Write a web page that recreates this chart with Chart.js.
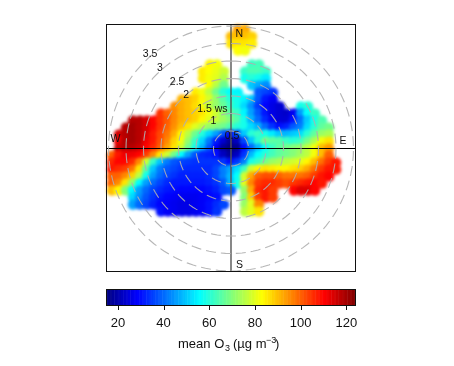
<!DOCTYPE html>
<html><head><meta charset="utf-8">
<script src="https://cdn.jsdelivr.net/npm/chart.js@4"></script>
<style>
html,body{margin:0;padding:0;background:#fff;width:454px;height:366px;overflow:hidden}
canvas{position:absolute;left:0;top:0}
#heat{filter:blur(1.7px)}
</style></head><body>
<canvas id="heat" width="454" height="366"></canvas>
<canvas id="over" width="454" height="366"></canvas>
<canvas id="bar" width="454" height="366"></canvas>
<script>
const cellStep = 0.2;
// each row: [row index, [[first column, [mean O3 values]], ...]]
const o3Rows = [
[-17,[[1,[93,92]]]],
[-16,[[0,[90,90,90,88]]]],
[-15,[[0,[86,86,86,85]]]],
[-14,[[1,[83,82]]]],
[-12,[[-3,[84,82]],[3,[62,63]]]],
[-11,[[-4,[85,83,81,78]],[2,[62,64,64,62]]]],
[-10,[[-4,[85,82,80,75]],[2,[58,60,58,54]]]],
[-9,[[-3,[83,76,68]],[3,[50,47,44]]]],
[-8,[[-5,[85,82,76,68,60,56,55]],[4,[38,36,34]]]],
[-7,[[-7,[91,90,88,84,79,72,65,60,58,55,50,38,31,28]]]],
[-6,[[-8,[95,92,90,87,82,76,72,67,62,58,52,44,35,29,26,24]],[10,[58,60]]]],
[-5,[[-10,[105,100,96,92,90,88,86,82,78,72,66,62,55,46,38,31,26,24,23,27,45,56,62]]]],
[-4,[[-14,[118,118,115,110,105,101,96,92,90,88,84,80,77,73,70,65,58,48,40,33,28,24,24,30,40,50,58,64]]]],
[-3,[[-15,[118,120,118,115,110,105,100,95,90,86,80,76,72,70,68,64,60,58,52,48,40,34,30,32,38,42,52,60,66,68]]]],
[-2,[[-16,[115,118,120,118,114,108,103,98,92,84,76,68,60,52,46,38,30,38,50,60,62,58,54,50,48,50,52,60,66,72,74]]]],
[-1,[[-16,[112,118,120,118,112,108,102,96,88,82,72,62,52,42,32,24,18,22,36,50,60,68,66,65,62,60,62,68,74,82,86]]]],
[0,[[-16,[116,118,118,116,110,106,100,93,86,78,68,58,48,38,28,18,15,17,30,40,48,56,62,66,68,70,72,76,82,90,94]]]],
[1,[[-17,[100,108,112,112,110,104,96,86,78,68,56,46,38,33,32,30,22,18,22,34,48,56,60,63,66,68,70,73,76,82,90,100]]]],
[2,[[-17,[106,110,110,106,96,78,62,50,42,38,36,35,34,34,34,34,34,30,34,42,58,62,68,72,74,76,78,80,84,90,98,104,108]]]],
[3,[[-17,[108,106,104,98,86,66,50,42,38,36,34,33,33,33,33,36,42,46,52,62,78,84,86,85,84,84,86,88,92,98,104,108,108]]]],
[4,[[-17,[100,100,96,88,76,58,46,40,36,34,32,32,32,32,33,36,42,48,56,78,92,100,102,102,100,98,98,98,100,104,108,110]]]],
[5,[[-17,[100,96,86,72,56,46,40,36,33,31,31,31,31,31,32,34,38,48,58,80,96,104,106,106,104,102,104,106,108,110,108]]]],
[6,[[-17,[90,84,70,56,46,40,36,33,31,30,29,29,29,29,30,32,36,38]],[2,[72,92,106,108,104]],[9,[110,114,114,110]]]],
[7,[[-14,[52,44,38,34,31,29,28,27,27,27,28,29,30]],[2,[70,88,104,108,104]]]],
[8,[[-14,[46,40,36,32,29,28,27,26,26,27,28,30,33,36]],[2,[72,80,96]]]],
[9,[[-10,[30,28,27,26,26,27,28,30,34]],[2,[76,80,86]]]]
];
const ringRadii = [0.5,1,1.5,2,2.5,3,3.5];
const colourStops = ["#00007F","#0000FF","#007FFF","#00FFFF","#7FFF7F","#FFFF00","#FF7F00","#FF0000","#7F0000"];
const scaleMin = 15, scaleMax = 124;
const barTicks = [20,40,60,80,100,120];
const compass = [["N",0.24,3.26],["E",3.2,0.2],["S",0.24,-3.34],["W",-3.3,0.26]];
const wsLabels = [["3.5",-2.31,2.7],["3",-2.03,2.29],["2.5",-1.54,1.9],["2",-1.28,1.52],["1.5 ws",-0.53,1.12],["1",-0.5,0.77],["0.5",0.03,0.34]];

function hex(c){return [1,3,5].map(k=>parseInt(c.substr(k,2),16));}
function colourOf(v){
  const t=Math.max(0,Math.min(0.9999,(v-scaleMin)/(scaleMax-scaleMin)))*(colourStops.length-1);
  const k=Math.floor(t),f=t-k,a=hex(colourStops[k]),b=hex(colourStops[k+1]);
  return `rgb(${a.map((x,n)=>Math.round(x+(b[n]-x)*f)).join(',')})`;
}
const font = '"Liberation Sans", Arial, sans-serif';
const xR = 125/35;
const plotLayout = {padding:{left:106,right:98,top:24,bottom:94}};
const hidden = {display:false};
const plotScales = {x:{type:'linear',min:-xR,max:xR,display:false},y:{type:'linear',min:-123.5/35,max:124.5/35,display:false}};
const base = {responsive:false,animation:false,events:[],layout:plotLayout,plugins:{legend:hidden,tooltip:{enabled:false}}};

const cells=[];
o3Rows.forEach(([j,segs])=>segs.forEach(([s,vals])=>vals.forEach((v,n)=>cells.push({x:(s+n)*cellStep,y:-j*cellStep,v}))));
new Chart(document.getElementById('heat'),{type:'scatter',
  data:{datasets:[{data:cells,pointStyle:'circle',pointRadius:5.3,borderWidth:0,
    backgroundColor:c=>colourOf(c.raw.v)}]},
  options:{...base,scales:plotScales}});

const ringSets = ringRadii.map(r=>{
  const pts=[];for(let a=0;a<=360;a+=3)pts.push({x:r*Math.sin(a*Math.PI/180),y:r*Math.cos(a*Math.PI/180)});
  return {data:pts,showLine:true,pointRadius:0,borderColor:'rgba(175,175,175,0.9)',borderWidth:1.1,borderDash:[10,5]};
});
const axisSets=[
 {data:[{x:-xR,y:0},{x:xR,y:0}],showLine:true,pointRadius:0,borderColor:'#000',borderWidth:1},
 {data:[{x:0,y:-124/35},{x:0,y:124/35}],showLine:true,pointRadius:0,borderColor:'#555',borderWidth:1.4}
];
const overlay={id:'overlay',afterDatasetsDraw(ch){
  const {ctx,chartArea:a,scales:{x,y}}=ch;
  ctx.save();ctx.strokeStyle='#111';ctx.lineWidth=1;
  ctx.strokeRect(a.left+.5,a.top+.5,a.right-a.left-1,a.bottom-a.top-1);
  ctx.fillStyle='#111';ctx.font='10.5px '+font;ctx.textAlign='center';ctx.textBaseline='middle';
  compass.concat(wsLabels).forEach(([t,px,py])=>ctx.fillText(t,x.getPixelForValue(px),y.getPixelForValue(py)));
  ctx.restore();
}};
new Chart(document.getElementById('over'),{type:'scatter',
  data:{datasets:ringSets.concat(axisSets)},
  options:{...base,scales:plotScales},plugins:[overlay]});

const barLevels=[];for(let v=scaleMin;v<=scaleMax;v++)barLevels.push(v);
new Chart(document.getElementById('bar'),{type:'bar',
  data:{datasets:[{data:barLevels.map(v=>({x:v,y:1})),barPercentage:1,categoryPercentage:1,
    backgroundColor:c=>colourOf(c.raw.x),borderColor:c=>colourOf(c.raw.x),borderWidth:0.6}]},
  options:{responsive:false,animation:false,events:[],
    layout:{padding:{left:106,right:98,top:289,bottom:10}},
    plugins:{legend:hidden,tooltip:{enabled:false}},
    scales:{
      x:{type:'linear',min:14.8,max:124.2,offset:false,afterFit:s=>{s.height=50;},
        afterBuildTicks:s=>{s.ticks=barTicks.map(v=>({value:v}));},
        grid:{display:false,offset:false},
        border:{display:false},
        ticks:{color:'#111',font:{family:font,size:13},padding:2,maxRotation:0}},
      y:{min:0,max:1,display:false}}},
  plugins:[{id:'barBox',afterDatasetsDraw(ch){
    const {ctx,chartArea:a,scales:{x}}=ch;ctx.save();ctx.strokeStyle='#111';ctx.lineWidth=1;
    ctx.strokeRect(a.left+.5,a.top+.5,a.right-a.left-1,a.bottom-a.top-1);
    barTicks.forEach(v=>{const p=Math.round(x.getPixelForValue(v))+.5;ctx.beginPath();ctx.moveTo(p,a.bottom);ctx.lineTo(p,a.bottom+4);ctx.stroke();});
    ctx.fillStyle='#111';ctx.textAlign='left';ctx.textBaseline='alphabetic';
    const piece=(t,px,py,sz)=>{ctx.font=sz+'px '+font;ctx.fillText(t,px,py);};
    piece('mean O',178,348,13);piece('3',225,351,9);piece('(µg m',233,348,13);piece('−3',266,343,9);piece(')',275,348,13);
    ctx.restore();}}]
});
</script>
</body></html>
